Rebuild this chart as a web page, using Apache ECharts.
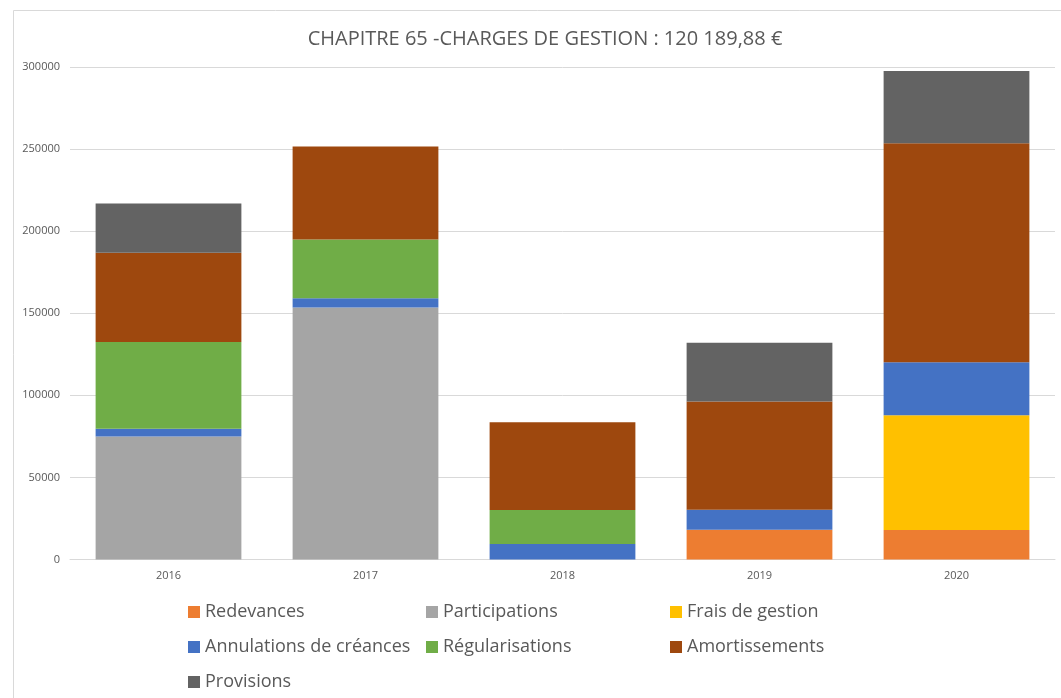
<!DOCTYPE html>
<html>
<head>
<meta charset="utf-8">
<script src="https://cdn.jsdelivr.net/npm/echarts@6/dist/echarts.min.js"></script>
<style>html,body{margin:0;padding:0;background:#fff;}#c{width:1061px;height:698px;}</style>
</head>
<body>
<div id="c"></div>
<script>
const categories = ['2016', '2017', '2018', '2019', '2020'];
const redevances = [null, null, null, 18100, 18000];
const participations = [75000, 153500, null, null, null];
const fraisGestion = [null, null, null, null, 69900];
const annulations = [4700, 5700, 9400, 12200, 32200];
const regularisations = [52800, 35800, 20700, null, null];
const amortissements = [54300, 56600, 53500, 65900, 133400];
const provisions = [30000, null, null, 35900, 44100];
const yTicks = [0, 50000, 100000, 150000, 200000, 250000, 300000];

const FONT = '"Open Sans", "Noto Sans", sans-serif';
const TXT = '#595959';

const seriesDefs = [
  ['Redevances', redevances, '#ED7D31'],
  ['Participations', participations, '#A5A5A5'],
  ['Frais de gestion', fraisGestion, '#FFC000'],
  ['Annulations de créances', annulations, '#4472C4'],
  ['Régularisations', regularisations, '#70AD47'],
  ['Amortissements', amortissements, '#9E480E'],
  ['Provisions', provisions, '#636363']
];

const legendBase = {
  orient: 'vertical', top: 600, padding: 0, itemWidth: 12, itemHeight: 12, itemGap: 11,
  icon: 'rect', selectedMode: false,
  textStyle: { fontFamily: FONT, fontSize: 18, color: TXT, lineHeight: 24, padding: [0, 0, 0, 0] }
};

const chart = echarts.init(document.getElementById('c'), null, { renderer: 'canvas' });
chart.setOption({
  animation: false,
  backgroundColor: '#fff',
  graphic: [{
    type: 'rect', shape: { x: 13.5, y: 10.5, width: 1100, height: 750 },
    style: { fill: 'none', stroke: '#d9d9d9', lineWidth: 1 }, silent: true, z: -1
  }],
  title: {
    text: 'CHAPITRE 65 -CHARGES DE GESTION : 120 189,88 €',
    left: 540, top: 24, textAlign: 'center',
    textStyle: { fontFamily: FONT, fontSize: 20, fontWeight: 'normal', color: TXT }
  },
  legend: [
    Object.assign({}, legendBase, { left: 188, data: ['Redevances', 'Annulations de créances', 'Provisions'] }),
    Object.assign({}, legendBase, { left: 426, data: ['Participations', 'Régularisations'] }),
    Object.assign({}, legendBase, { left: 670, data: ['Frais de gestion', 'Amortissements'] })
  ],
  grid: { left: 70, right: 6, top: 67, height: 492.5, containLabel: false },
  xAxis: {
    type: 'category', data: categories,
    axisLine: { lineStyle: { color: '#d9d9d9' } },
    axisTick: { show: false },
    axisLabel: { fontFamily: FONT, fontSize: 11, color: TXT, margin: 11 }
  },
  yAxis: {
    type: 'value', min: yTicks[0], max: yTicks[yTicks.length - 1], interval: 50000,
    axisLine: { show: false }, axisTick: { show: false },
    splitLine: { lineStyle: { color: '#d9d9d9' } },
    axisLabel: { fontFamily: FONT, fontSize: 11, color: TXT, margin: 10, formatter: v => String(v) }
  },
  series: seriesDefs.map(([name, data, color]) => ({
    name, type: 'bar', stack: 'total', data, barWidth: '74%',
    itemStyle: { color }, emphasis: { disabled: true }
  }))
});
</script>
</body>
</html>
